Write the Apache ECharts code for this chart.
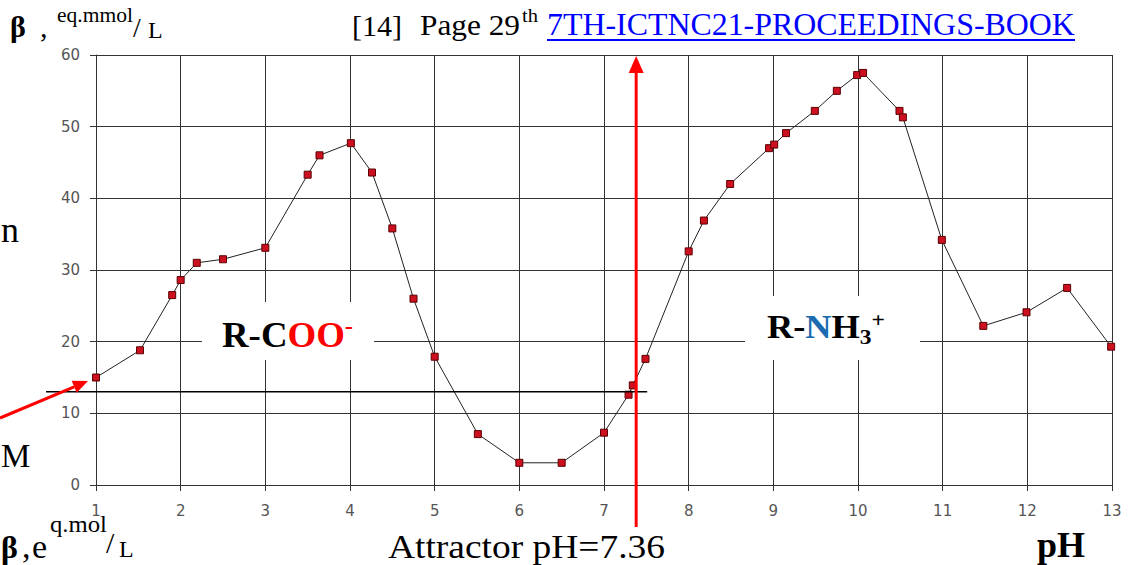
<!DOCTYPE html>
<html><head><meta charset="utf-8">
<script src="https://cdn.jsdelivr.net/npm/echarts@6/dist/echarts.min.js"></script>
<style>html,body{margin:0;padding:0;background:#fff;overflow:hidden}#c{width:1134px;height:565px;}</style>
</head><body><div id="c"></div>
<script>
// ---- data ----
const phValues   = [1.0, 1.52, 1.9, 2.0, 2.19, 2.5, 3.0, 3.5, 3.64, 4.01, 4.26, 4.5, 4.75, 5.0, 5.51, 6.0, 6.5, 7.0, 7.29, 7.34, 7.49, 8.0, 8.18, 8.49, 8.95, 9.01, 9.15, 9.49, 9.75, 9.99, 10.06, 10.49, 10.53, 10.99, 11.48, 11.99, 12.47, 12.99];
const betaValues = [15.0, 18.8, 26.5, 28.6, 31.0, 31.5, 33.1, 43.3, 46.0, 47.7, 43.6, 35.8, 26.0, 17.9, 7.1, 3.1, 3.1, 7.3, 12.6, 13.9, 17.6, 32.6, 36.9, 42.0, 47.0, 47.5, 49.1, 52.2, 55.0, 57.2, 57.5, 52.2, 51.3, 34.2, 22.2, 24.1, 27.5, 19.3];
const xTickLabels = [1,2,3,4,5,6,7,8,9,10,11,12,13];
const yTickLabels = [0,10,20,30,40,50,60];
const refLevel = 13;            // black horizontal reference line (β)
const refLineFrom = 0.41, refLineTo = 7.51;  // its pH extent
const attractorPH = 7.36;       // label value
const attractorLineX = 7.38;    // where the red arrow is drawn

const chart = echarts.init(document.getElementById('c'), null, {renderer:'svg', width:1134, height:565});
const axisCol = '#333';
const labelStyle = {color:'#555', fontFamily:'DejaVu Sans', fontSize:15};

chart.setOption({
  animation:false,
  backgroundColor:'#fff',
  grid:{left:96, top:55, right:22, bottom:80, containLabel:false},
  xAxis:{type:'value', min:xTickLabels[0], max:xTickLabels[xTickLabels.length-1], interval:1,
    axisLine:{show:true, onZero:false, lineStyle:{color:axisCol}},
    axisTick:{show:true, length:6, lineStyle:{color:axisCol}},
    axisLabel:Object.assign({margin:18}, labelStyle),
    splitLine:{show:true, lineStyle:{color:axisCol, width:1}}},
  yAxis:{type:'value', min:yTickLabels[0], max:yTickLabels[yTickLabels.length-1], interval:10,
    axisLine:{show:true, lineStyle:{color:axisCol}},
    axisTick:{show:true, length:6, lineStyle:{color:axisCol}},
    axisLabel:Object.assign({margin:16}, labelStyle),
    splitLine:{show:true, lineStyle:{color:axisCol, width:1}}},
  series:[{type:'line', data:phValues.map((x,i)=>[x, betaValues[i]]),
    symbol:'rect', symbolSize:7, showSymbol:true, z:20,
    lineStyle:{color:'#222', width:1},
    itemStyle:{color:'#cc1020', borderColor:'#5a0000', borderWidth:1}}]
});

// ---- annotations ----
const MID = 0.32;
const mctx = document.createElement('canvas').getContext('2d');
function fontOf(p){ return (p.bold?'bold ':'') + p.size + 'px "Liberation Serif", "Times New Roman", serif'; }
function measure(p){ mctx.font = fontOf(p); return mctx.measureText(p.t).width; }
function run(x0, base, parts, target){
  const w = parts.map(measure);
  const total = w.reduce((a,b)=>a+b,0);
  const s = target ? target/total : 1;
  let cx = x0; const out = [];
  parts.forEach((p,i)=>{
    out.push({type:'text', x:cx, y:base + (p.dy||0), scaleX:s, z:100, silent:true,
      style:{text:p.t, font:fontOf(p), fill:p.fill||'#000', align:'left', verticalAlign:'middle', x:0, y:-MID*p.size}});
    cx += w[i]*s;
  });
  return out;
}
function arrow(x1,y1,x2,y2,color,lw,headLen,headHalf){
  const dx=x2-x1, dy=y2-y1, L=Math.hypot(dx,dy), ux=dx/L, uy=dy/L;
  const bx=x2-ux*headLen, by=y2-uy*headLen, px=-uy, py=ux;
  return [
    {type:'line', z:90, silent:true, shape:{x1:x1,y1:y1,x2:bx,y2:by}, style:{stroke:color, lineWidth:lw}},
    {type:'polygon', z:90, silent:true, shape:{points:[[x2,y2],[bx+px*headHalf,by+py*headHalf],[bx-px*headHalf,by-py*headHalf]]}, style:{fill:color}}
  ];
}

const pA = chart.convertToPixel({gridIndex:0}, [refLineFrom, refLevel]);
const pB = chart.convertToPixel({gridIndex:0}, [refLineTo, refLevel]);
const pAttr = chart.convertToPixel({gridIndex:0}, [attractorLineX, 0]);

let g = [];
g.push({type:'rect', z:50, silent:true, shape:{x:202,y:302,width:172,height:58}, style:{fill:'#fff'}});
g.push({type:'rect', z:50, silent:true, shape:{x:745,y:296,width:175,height:64}, style:{fill:'#fff'}});
g.push({type:'line', z:60, silent:true, shape:{x1:pA[0],y1:pA[1],x2:pB[0],y2:pB[1]}, style:{stroke:'#000', lineWidth:1.5}});
g = g.concat(arrow(pAttr[0], 527, pAttr[0], 56, '#ff0000', 3, 17, 7.5));
g = g.concat(arrow(0, 418, 88, 381, '#ff0000', 3, 15, 6.5));

// top-left axis title
g = g.concat(run(10, 36, [{t:'β', size:30, bold:true}]));
g = g.concat(run(40, 36, [{t:',', size:30}]));
g = g.concat(run(57, 22, [{t:'eq.mmol', size:22}], 76));
g = g.concat(run(133, 36, [{t:'/', size:28}]));
g = g.concat(run(148, 38, [{t:'L', size:24}]));
// top reference
g = g.concat(run(352, 35, [{t:'[14]', size:30}], 50));
g = g.concat(run(420, 35, [{t:'Page 29', size:30}], 100));
g = g.concat(run(522, 22, [{t:'th', size:18}], 16));
g = g.concat(run(547, 35, [{t:'7TH-ICTNC21-PROCEEDINGS-BOOK', size:31, fill:'#0000ff'}], 528));
g.push({type:'line', z:100, silent:true, shape:{x1:547,y1:40,x2:1075,y2:40}, style:{stroke:'#0000ff', lineWidth:2}});
// in-plot labels
g = g.concat(run(222, 347, [{t:'R-C', size:36, bold:true}, {t:'OO', size:36, bold:true, fill:'#ff0000'}, {t:'-', size:24, bold:true, fill:'#ff0000', dy:-14}], 131));
g = g.concat(run(767, 338, [{t:'R-', size:34, bold:true}, {t:'N', size:34, bold:true, fill:'#1a6bb0'}, {t:'H', size:34, bold:true}, {t:'3', size:22, bold:true, dy:6}, {t:'+', size:22, bold:true, dy:-11}], 118));
// side texts (kept inside the page)
g = g.concat(run(1, 242, [{t:'n', size:36}]));
g = g.concat(run(1, 467, [{t:'M', size:33}]));
// bottom texts
g = g.concat(run(1, 557, [{t:'β', size:32, bold:true}]));
g = g.concat(run(22, 557, [{t:',', size:34}]));
g = g.concat(run(32, 557, [{t:'e', size:34}]));
g = g.concat(run(50, 531, [{t:'q.mol', size:24}], 57));
g = g.concat(run(106, 552, [{t:'/', size:30}]));
g = g.concat(run(119, 557, [{t:'L', size:24}]));
g = g.concat(run(388, 557, [{t:'Attractor pH=' + attractorPH.toFixed(2), size:34}], 277));
g = g.concat(run(1037, 557, [{t:'pH', size:36, bold:true}], 48));

chart.setOption({graphic:{elements:g}});
</script></body></html>
